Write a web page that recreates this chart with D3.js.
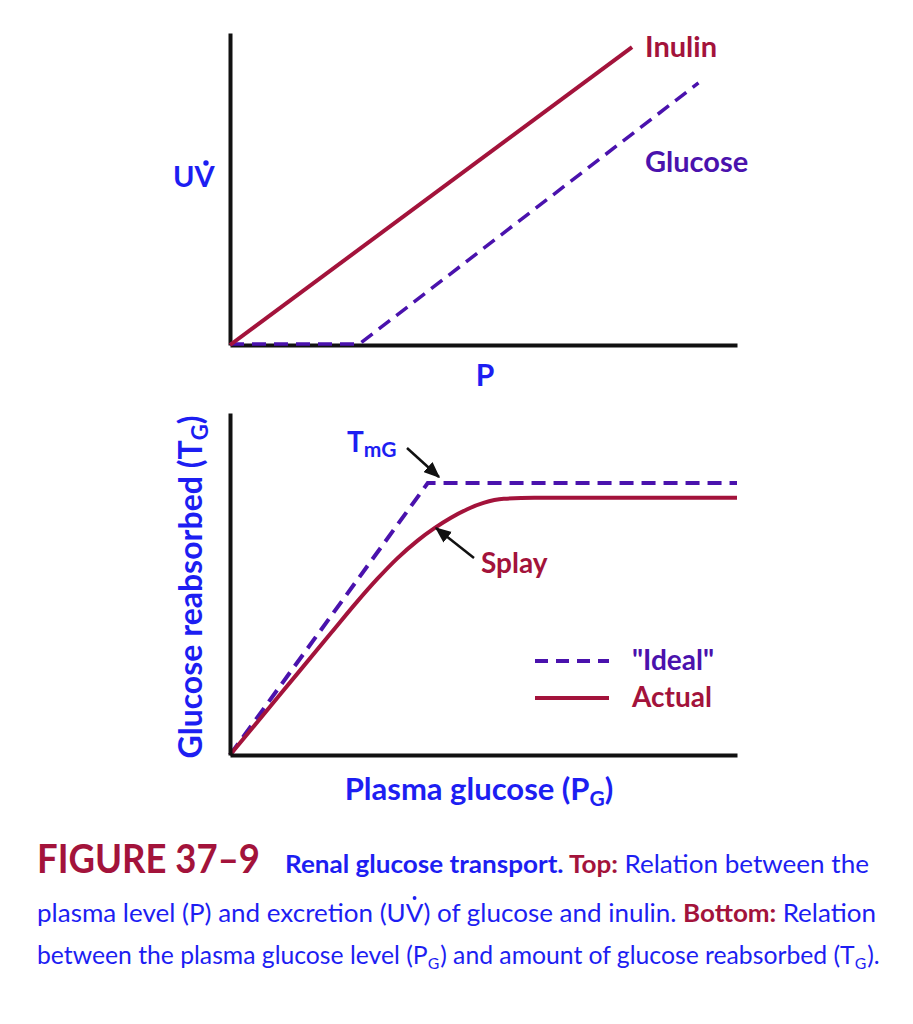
<!DOCTYPE html>
<html>
<head>
<meta charset="utf-8">
<script src="https://cdn.jsdelivr.net/npm/d3@7"></script>
<style>
  body { margin: 0; background: #fff; }
  text { font-family: Lato, "Open Sans", sans-serif; }
</style>
</head>
<body>
<div id="fig"></div>
<script>
// top panel: UV vs P
const inulinTop = [[0, 0], [7.93, 9.55]];
const glucoseTop = [[0, 0.03], [2.55, 0.03], [9.24, 8.4]];

// bottom panel: reabsorbed glucose vs plasma glucose
const idealTG = [[0, 0], [3.9, 7.95], [10, 7.95]];
const actualTG = [[0, 0], [1, 1.79], [2, 3.58], [2.5, 4.47], [2.9, 5.14], [3.3, 5.75], [3.7, 6.27], [4.04, 6.64], [4.35, 6.93], [4.67, 7.18], [5.0, 7.37], [5.4, 7.49], [6, 7.52], [10, 7.52]];

const seriesNames = ["Inulin", "Glucose"];
const legendNames = ['"Ideal"', "Actual"];

const crimson = "#a3133b", purple = "#4a12ad", blue = "#1d1ef2";

const svg = d3.select("#fig").append("svg")
    .attr("width", 913)
    .attr("height", 1024);

// ---------- top chart
let xTop = d3.scaleLinear().domain([0, 10]).range([230, 737]);
let yTop = d3.scaleLinear().domain([0, 10]).range([345, 33]);
let lineTop = d3.line().x(d => xTop(d[0])).y(d => yTop(d[1]));

let topG = svg.append("g");

// axes drawn as bare lines (no ticks in the figure)
topG.append("g").attr("transform", `translate(0,${yTop(0)})`)
    .call(d3.axisBottom(xTop).tickValues([]).tickSizeOuter(0))
    .select(".domain").attr("stroke", "#111").attr("stroke-width", 4);
topG.append("g").attr("transform", `translate(${xTop(0)},0)`)
    .call(d3.axisLeft(yTop).tickValues([]).tickSizeOuter(0))
    .select(".domain").attr("stroke", "#111").attr("stroke-width", 4);

topG.append("path").attr("d", lineTop(glucoseTop))
    .attr("fill", "none").attr("stroke", purple).attr("stroke-width", 3.5)
    .attr("stroke-dasharray", "14,8");
topG.append("path").attr("d", lineTop(inulinTop))
    .attr("fill", "none").attr("stroke", crimson).attr("stroke-width", 4);

topG.append("text").attr("x", 645).attr("y", 57)
    .attr("fill", crimson).attr("font-size", 29).attr("font-weight", 700)
    .text(seriesNames[0]);
topG.append("text").attr("x", 645).attr("y", 172)
    .attr("fill", purple).attr("font-size", 29).attr("font-weight", 700)
    .text(seriesNames[1]);

topG.append("text").attr("x", 173).attr("y", 187)
    .attr("fill", blue).attr("font-size", 29).attr("font-weight", 700)
    .text("UV");
topG.append("circle").attr("cx", 206).attr("cy", 163).attr("r", 2.7).attr("fill", blue);
topG.append("text").attr("x", 485).attr("y", 386).attr("text-anchor", "middle")
    .attr("fill", blue).attr("font-size", 30).attr("font-weight", 700)
    .text("P");

// ---------- bottom chart
let xBot = d3.scaleLinear().domain([0, 10]).range([230, 737]);
let yBot = d3.scaleLinear().domain([0, 10]).range([755, 413]);
let lineBot = d3.line().x(d => xBot(d[0])).y(d => yBot(d[1]));

let bot = svg.append("g");
bot.append("path").attr("d", lineBot(idealTG))
    .attr("fill", "none").attr("stroke", purple).attr("stroke-width", 4)
    .attr("stroke-dasharray", "14,8");
bot.append("path").attr("d", lineBot.curve(d3.curveMonotoneX)(actualTG))
    .attr("fill", "none").attr("stroke", crimson).attr("stroke-width", 4);

bot.append("g").attr("transform", `translate(0,${yBot(0)})`)
    .call(d3.axisBottom(xBot).tickValues([]).tickSizeOuter(0))
    .select(".domain").attr("stroke", "#111").attr("stroke-width", 4);
bot.append("g").attr("transform", `translate(${xBot(0)},0)`)
    .call(d3.axisLeft(yBot).tickValues([]).tickSizeOuter(0))
    .select(".domain").attr("stroke", "#111").attr("stroke-width", 4);

// arrows
svg.append("defs").append("marker")
    .attr("id", "ah").attr("viewBox", "0 0 12 10")
    .attr("refX", 11).attr("refY", 5)
    .attr("markerWidth", 6.5).attr("markerHeight", 5.5)
    .attr("orient", "auto")
    .append("path").attr("d", "M0,0 L12,5 L0,10 Z").attr("fill", "#111");
bot.append("line").attr("x1", 407).attr("y1", 448).attr("x2", 439).attr("y2", 477)
    .attr("stroke", "#111").attr("stroke-width", 2.5).attr("marker-end", "url(#ah)");
bot.append("line").attr("x1", 474).attr("y1", 558).attr("x2", 436).attr("y2", 528)
    .attr("stroke", "#111").attr("stroke-width", 2.5).attr("marker-end", "url(#ah)");

let tm = bot.append("text").attr("x", 347).attr("y", 452)
    .attr("fill", blue).attr("font-size", 28).attr("font-weight", 700);
tm.append("tspan").text("T");
tm.append("tspan").attr("font-size", 21).attr("dy", 5).text("mG");

bot.append("text").attr("x", 481).attr("y", 573)
    .attr("fill", crimson).attr("font-size", 28).attr("font-weight", 700)
    .text("Splay");

// legend
let legY = [661, 698];
let leg = bot.selectAll(".leg").data(legendNames).enter().append("g").attr("class", "leg");
leg.append("line")
    .attr("x1", 535).attr("x2", 609)
    .attr("y1", (d, i) => legY[i]).attr("y2", (d, i) => legY[i])
    .attr("stroke", (d, i) => i === 0 ? purple : crimson)
    .attr("stroke-width", 4)
    .attr("stroke-dasharray", (d, i) => i === 0 ? "13,8" : null);
leg.append("text")
    .attr("x", 632).attr("y", (d, i) => legY[i] + 9)
    .attr("fill", (d, i) => i === 0 ? purple : crimson)
    .attr("font-size", 28).attr("font-weight", 700)
    .text(d => d);

let yl = bot.append("text")
    .attr("transform", `translate(202,587) rotate(-90)`)
    .attr("text-anchor", "middle")
    .attr("fill", blue).attr("font-size", 32).attr("font-weight", 700);
yl.append("tspan").text("Glucose reabsorbed (T");
yl.append("tspan").attr("font-size", 22).attr("dy", 6).text("G");
yl.append("tspan").attr("dy", -6).text(")");

let xl = bot.append("text")
    .attr("x", 479).attr("y", 800)
    .attr("text-anchor", "middle")
    .attr("fill", blue).attr("font-size", 31).attr("font-weight", 700);
xl.append("tspan").text("Plasma glucose (P");
xl.append("tspan").attr("font-size", 21).attr("dy", 6).text("G");
xl.append("tspan").attr("dy", -6).text(")");

// ---------- caption
let cap = svg.append("g");
cap.append("text").attr("x", 37).attr("y", 873)
    .attr("fill", crimson).attr("font-size", 40).attr("font-weight", 700)
    .attr("textLength", 223).attr("lengthAdjust", "spacingAndGlyphs")
    .text("FIGURE 37–9");

let l1 = cap.append("text").attr("x", 285).attr("y", 873)
    .attr("fill", blue).attr("font-size", 25)
    .attr("textLength", 584).attr("lengthAdjust", "spacingAndGlyphs");
l1.append("tspan").attr("font-weight", 700).text("Renal glucose transport. ");
l1.append("tspan").attr("font-weight", 700).attr("fill", crimson).text("Top: ");
l1.append("tspan").text("Relation between the");

let l2 = cap.append("text").attr("x", 37).attr("y", 922)
    .attr("fill", blue).attr("font-size", 25)
    .attr("textLength", 839).attr("lengthAdjust", "spacingAndGlyphs");
l2.append("tspan").text("plasma level (P) and excretion (UV) of glucose and inulin. ");
l2.append("tspan").attr("font-weight", 700).attr("fill", crimson).text("Bottom: ");
l2.append("tspan").text("Relation");

// last line: sized to fit rather than squeezed, so the subscripts keep their own room
let l3 = cap.append("text").attr("x", 37).attr("y", 964)
    .attr("fill", blue).attr("font-size", 25);
l3.append("tspan").text("between the plasma glucose level (P");
l3.append("tspan").attr("class", "sub").attr("font-size", 16).attr("dy", 5).text("G");
l3.append("tspan").attr("dy", -5).attr("dx", 1).text(") and amount of glucose reabsorbed (T");
l3.append("tspan").attr("class", "sub").attr("font-size", 16).attr("dy", 5).text("G");
l3.append("tspan").attr("dy", -5).attr("dx", 1).text(").");
let w3 = l3.node().getComputedTextLength();
let fs3 = 25 * 841 / w3;
l3.attr("font-size", fs3);
l3.selectAll(".sub").attr("font-size", fs3 * 0.64);

// dot over the V in the caption's "(UV)"
let vNode = l2.node();
let vIdx = "plasma level (P) and excretion (U".length;
let vBox = vNode.getExtentOfChar(vIdx);
cap.append("circle").attr("cx", vBox.x + vBox.width / 2).attr("cy", vBox.y + 1)
    .attr("r", 1.9).attr("fill", blue);
</script>
</body>
</html>
